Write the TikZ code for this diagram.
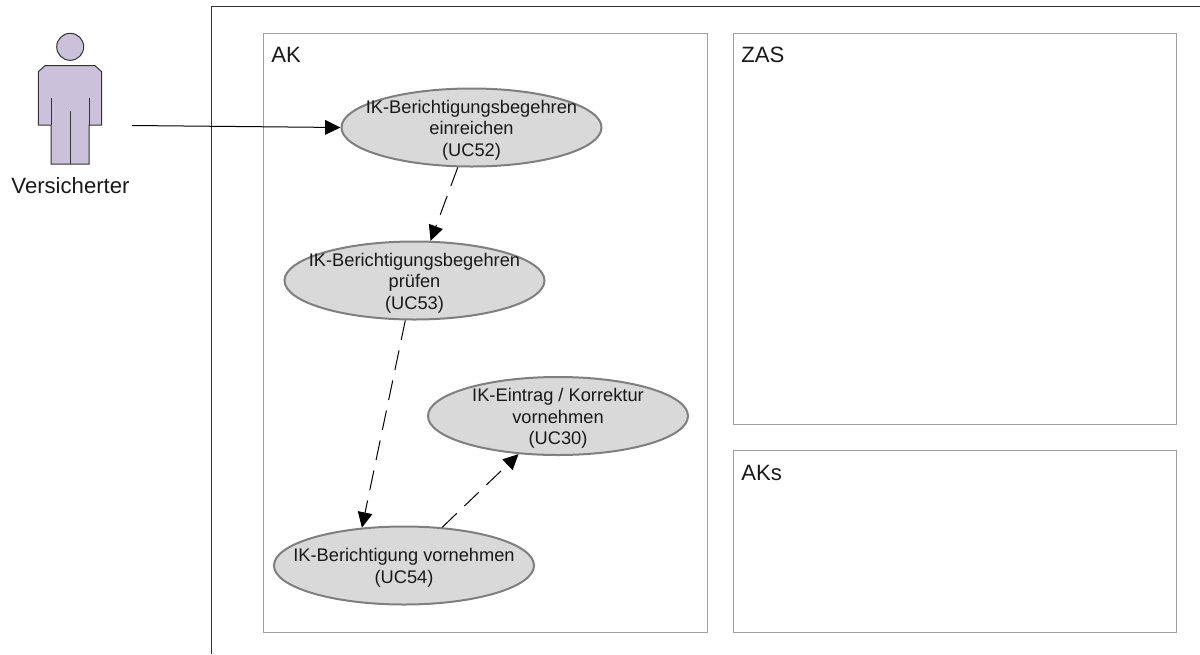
\documentclass[tikz,border=0pt]{standalone}
\usepackage{fontspec}
\setmainfont{Liberation Sans}
\usetikzlibrary{shapes.geometric,arrows.meta}
\definecolor{actorfill}{HTML}{CCC1DA}
\definecolor{ucfill}{HTML}{D9D9D9}
\definecolor{ucline}{HTML}{7F7F7F}
\definecolor{framegray}{HTML}{A0A0A0}
\tikzset{
  x=0.75pt,y=-0.75pt,
  usecase/.style={ellipse,draw=ucline,fill=ucfill,line width=1.5pt,minimum width=195pt,minimum height=58.5pt,inner sep=0pt,
    label={[uctext]center:{#1}}},
  uctext/.style={inner sep=0pt,align=center,font=\fontsize{13.7pt}{16.2pt}\selectfont,text=black!90,yshift=-1.8pt},
  framebox/.style={draw=framegray,line width=0.75pt},
  framelabel/.style={anchor=west,inner sep=0pt,font=\fontsize{16.6pt}{19pt}\selectfont,text=black!90},
  actorline/.style={draw=black!80,line width=0.75pt},
  actorshape/.style={actorline,fill=actorfill,line join=miter},
  flow/.style={-{Triangle[length=11.5pt,width=11pt]},line width=0.75pt,black},
  dep/.style={flow,dash pattern=on 15pt off 8pt},
}
\begin{document}
\begin{tikzpicture}
\useasboundingbox (0,0) rectangle (1200,654);
\draw[draw=black!80,line width=0.75pt] (211,654) -- (211,6.5) -- (1200,6.5);
\node[framebox,anchor=north west,minimum width=333pt,minimum height=449.25pt,inner sep=0pt] (ak) at (263,33) {};
\node[framebox,anchor=north west,minimum width=332.25pt,minimum height=293.25pt,inner sep=0pt] (zas) at (733,33) {};
\node[framebox,anchor=north west,minimum width=332.25pt,minimum height=136.5pt,inner sep=0pt] (aks) at (733,450) {};
\node[framelabel] (akl) at (271,55) {AK};
\node[framelabel] (zasl) at (741,55) {ZAS};
\node[framelabel] (aksl) at (741,473) {AKs};
% actor
\draw[actorshape] (70.2,46.8) circle (13.5);
\draw[actorshape] (45,65.7) -- (38.3,71.7) -- (38.3,125) -- (51,125) -- (51,164) -- (89,164) -- (89,125) -- (101.7,125) -- (101.7,71.7) -- (95,65.7) -- cycle;
\draw[actorline] (51,98.3) -- (51,125) (89,98.3) -- (89,125) (70,111) -- (70,164);
\node[inner sep=0pt,font=\fontsize{16.6pt}{19pt}\selectfont,text=black!90] (actor) at (70.5,186) {Versicherter};
\coordinate (actorout) at (132,125.5);
% use cases
\node[usecase={IK-Berichtigungsbegehren\\einreichen\\(UC52)}] (uc52) at (471.5,127.5) {};
\node[usecase={IK-Berichtigungsbegehren\\prüfen\\(UC53)}] (uc53) at (414.5,280.5) {};
\node[usecase={IK-Eintrag / Korrektur\\vornehmen\\(UC30)}] (uc30) at (558,416) {};
\node[usecase={IK-Berichtigung vornehmen\\(UC54)}] (uc54) at (404,565.5) {};
% connectors
\draw[flow] (actorout) -- (uc52.west);
\draw[dep] (uc52.-109) -- (uc53.68);
\draw[dep] (uc53.-103) -- (uc54.138);
\draw[dep] (uc54.45) -- (uc30.-136);
\end{tikzpicture}
\end{document}
